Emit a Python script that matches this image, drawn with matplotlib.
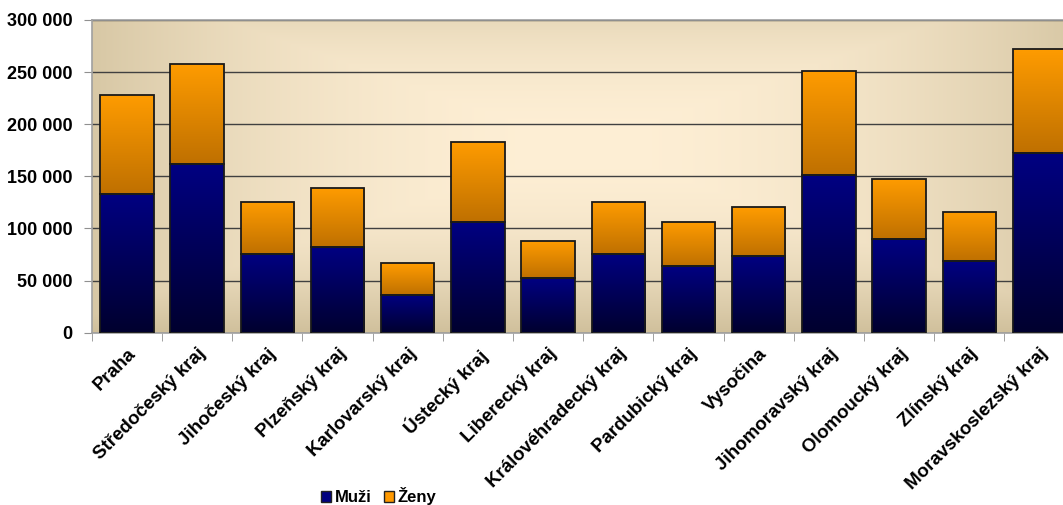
import numpy as np
import matplotlib
matplotlib.use('Agg')
import matplotlib.pyplot as plt
from matplotlib.ticker import FuncFormatter, FixedLocator
from matplotlib.patches import Patch
from matplotlib.colors import LinearSegmentedColormap

plt.rcParams['font.family'] = ['Liberation Sans', 'DejaVu Sans']

# kraje a počty
kraje = ['Praha', 'Středočeský kraj', 'Jihočeský kraj', 'Plzeňský kraj',
         'Karlovarský kraj', 'Ústecký kraj', 'Liberecký kraj',
         'Královéhradecký kraj', 'Pardubický kraj', 'Vysočina',
         'Jihomoravský kraj', 'Olomoucký kraj', 'Zlínský kraj',
         'Moravskoslezský kraj']
muzi = [133400, 161900, 75800, 82500, 36500, 106500, 52200,
        75800, 64000, 73900, 151000, 89900, 68800, 172100]
zeny = [95000, 96300, 49900, 56700, 30700, 76800, 35500,
        49900, 42500, 47000, 100100, 57600, 47300, 100400]
y_ticks = [0, 50000, 100000, 150000, 200000, 250000, 300000]

fig = plt.figure(figsize=(10.63, 5.05), dpi=100)
ax = fig.add_axes([0.0863, 0.3412, 0.9247, 0.6192])

# pozadí s přechodem (světlý střed, tmavší okraje)
gx, gy = np.meshgrid(np.linspace(0, 1, 400), np.linspace(0, 1, 200))
d = np.maximum(np.abs(gx - 0.5) / 0.55, np.abs(gy - 0.6) / 0.6)
d = np.clip(d, 0, 1) ** 2.0
c_in = np.array([0.996, 0.937, 0.835])
c_out = np.array([0.815, 0.752, 0.610])
bg = c_in[None, None, :] * (1 - d[..., None]) + c_out[None, None, :] * d[..., None]
ax.imshow(bg, extent=[0, 1, 0, 1], transform=ax.transAxes, aspect='auto',
          origin='lower', zorder=0, interpolation='bilinear')

x = np.arange(len(kraje))
w = 0.76
b1 = ax.bar(x, muzi, width=w, color='none', edgecolor='#1a1a1a', lw=1.3, zorder=3)
b2 = ax.bar(x, zeny, width=w, bottom=muzi, color='none', edgecolor='#1a1a1a', lw=1.3, zorder=3)

cm_m = LinearSegmentedColormap.from_list('m', ['#00002e', '#000082'])
cm_z = LinearSegmentedColormap.from_list('z', ['#bf7000', '#ff9c00'])
grad = np.linspace(0, 1, 256).reshape(-1, 1)
for bars, cm in ((b1, cm_m), (b2, cm_z)):
    for p in bars:
        x0, y0 = p.get_xy()
        im = ax.imshow(grad, extent=[x0, x0 + p.get_width(), y0, y0 + p.get_height()],
                       origin='lower', aspect='auto', cmap=cm, zorder=2)
        im.set_clip_path(p)

ax.set_xlim(-0.5, len(kraje) - 0.5)
ax.set_ylim(0, 300000)
ax.yaxis.set_major_locator(FixedLocator(y_ticks))
ax.yaxis.set_major_formatter(FuncFormatter(lambda v, p: f'{int(v):,}'.replace(',', ' ')))
ax.grid(axis='y', color='#404040', lw=1, zorder=1)
ax.set_axisbelow(True)

ax.set_xticks(x)
ax.set_xticklabels(kraje, rotation=45, ha='right', rotation_mode='anchor',
                   fontsize=13.5, fontweight='bold')
ax.set_xticks(np.arange(-0.5, len(kraje), 1), minor=True)
ax.tick_params(axis='x', which='major', length=0, pad=9)
ax.tick_params(axis='x', which='minor', length=6, color='#909090')
ax.tick_params(axis='y', length=6, color='#909090', labelsize=13, pad=8)
for t in ax.get_yticklabels():
    t.set_fontweight('bold')

for s in ax.spines.values():
    s.set_color('#a0a0a0')
    s.set_linewidth(1.2)

handles = [Patch(facecolor='#000080', edgecolor='#222222', label='Muži'),
           Patch(facecolor='#ff9900', edgecolor='#222222', label='Ženy')]
fig.legend(handles=handles, loc='lower left', bbox_to_anchor=(0.288, -0.03),
           ncol=2, frameon=False, handlelength=0.6, handleheight=0.6,
           handletextpad=0.25, columnspacing=0.7,
           prop={'weight': 'bold', 'size': 12})

fig.savefig('out.png', dpi=100)
